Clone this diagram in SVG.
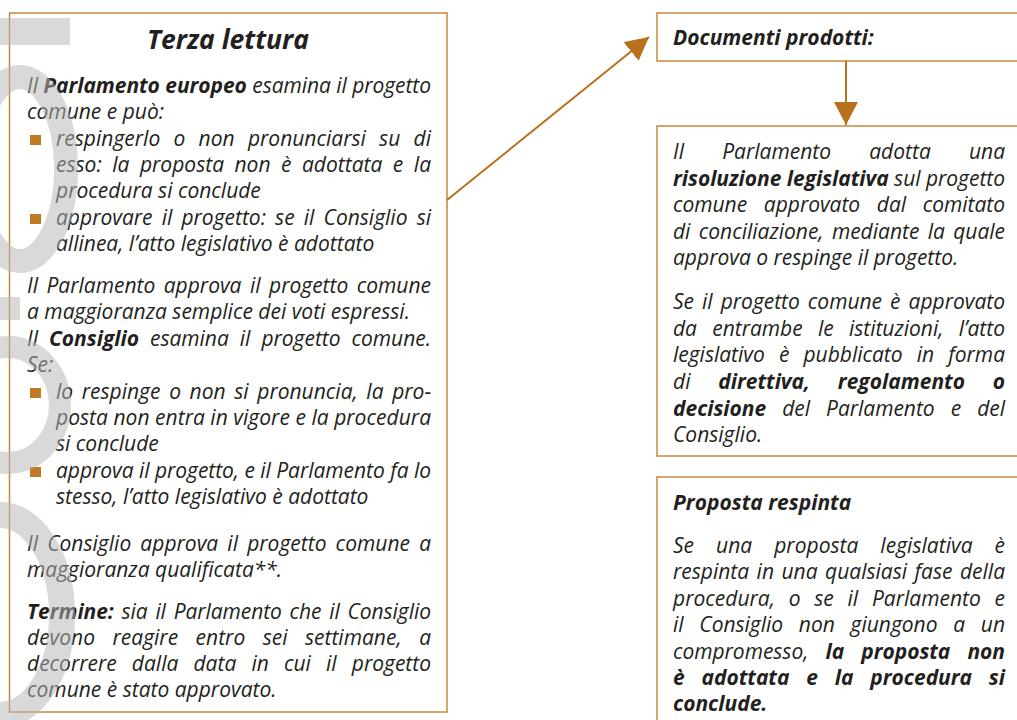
<svg xmlns="http://www.w3.org/2000/svg" width="1017" height="720" viewBox="0 0 1017 720">
<style>
.box{fill:#fff;stroke:#c8883e;stroke-width:1.5}
.t{font-family:"Open Sans","Liberation Sans",sans-serif;font-style:italic;font-size:21px;fill:#231f20}
.b{font-weight:700}
.h{font-family:"Open Sans","Liberation Sans",sans-serif;font-style:italic;font-weight:700;font-size:26.5px;fill:#231f20}
.bul{fill:#c07a24}
.con{stroke:#b9701c;stroke-width:2;fill:none}
.wm{fill:none;stroke:#b7b7b7;stroke-opacity:0.52}
.wf{fill:#b7b7b7;fill-opacity:0.52}
</style>
<defs>
<marker id="ah" markerUnits="userSpaceOnUse" markerWidth="24" markerHeight="24" refX="23" refY="12" orient="auto">
<path d="M0,0 L23,12 L0,24 z" fill="#b9701c"/>
</marker>
</defs>
<rect width="1017" height="720" fill="#fff"/>
<g id="terza-lettura">
<rect class="box" x="9.5" y="13" width="437.5" height="699"/>
<text class="h" x="228" y="49" text-anchor="middle">Terza lettura</text>
<text class="t" x="27" y="92.5" textLength="404" lengthAdjust="spacing">Il <tspan class="b">Parlamento europeo</tspan> esamina il progetto</text>
<text class="t" x="27" y="118.5">comune e può:</text>
<rect class="bul" x="30" y="135" width="11" height="10"/>
<text class="t" x="56" y="145.5" style="word-spacing:7.8px" textLength="375" lengthAdjust="spacing">respingerlo o non pronunciarsi su di</text>
<text class="t" x="56" y="171.5" style="word-spacing:5px" textLength="375" lengthAdjust="spacing">esso: la proposta non è adottata e la</text>
<text class="t" x="56" y="197.5">procedura si conclude</text>
<rect class="bul" x="30" y="214" width="11" height="10"/>
<text class="t" x="56" y="224.5" style="word-spacing:3.7px" textLength="375" lengthAdjust="spacing">approvare il progetto: se il Consiglio si</text>
<text class="t" x="56" y="250.5">allinea, l’atto legislativo è adottato</text>
<text class="t" x="27" y="292.5" style="word-spacing:3px" textLength="404" lengthAdjust="spacing">Il Parlamento approva il progetto comune</text>
<text class="t" x="27" y="318.5">a maggioranza semplice dei voti espressi.</text>
<text class="t" x="27" y="345.5" style="word-spacing:5.6px" textLength="404" lengthAdjust="spacing">Il <tspan class="b">Consiglio</tspan> esamina il progetto comune.</text>
<text class="t" x="27" y="371.5">Se:</text>
<rect class="bul" x="30" y="388" width="11" height="10"/>
<text class="t" x="56" y="398.5" style="word-spacing:3.2px" textLength="375" lengthAdjust="spacing">lo respinge o non si pronuncia, la pro-</text>
<text class="t" x="56" y="424.5" textLength="375" lengthAdjust="spacing">posta non entra in vigore e la procedura</text>
<text class="t" x="56" y="450.5">si conclude</text>
<rect class="bul" x="30" y="467" width="11" height="10"/>
<text class="t" x="56" y="477.5" textLength="375" lengthAdjust="spacing">approva il progetto, e il Parlamento fa lo</text>
<text class="t" x="56" y="503.5">stesso, l’atto legislativo è adottato</text>
<text class="t" x="27" y="550.5" style="word-spacing:3.7px" textLength="404" lengthAdjust="spacing">Il Consiglio approva il progetto comune a</text>
<text class="t" x="27" y="576.5">maggioranza qualificata**.</text>
<text class="t" x="27" y="618.5" style="word-spacing:2.4px" textLength="404" lengthAdjust="spacing"><tspan class="b">Termine:</tspan> sia il Parlamento che il Consiglio</text>
<text class="t" x="27" y="644.5" style="word-spacing:12px" textLength="404" lengthAdjust="spacing">devono reagire entro sei settimane, a</text>
<text class="t" x="27" y="670.5" style="word-spacing:9.7px" textLength="404" lengthAdjust="spacing">decorrere dalla data in cui il progetto</text>
<text class="t" x="27" y="696.5">comune è stato approvato.</text>
</g>
<g id="documenti-prodotti">
<rect class="box" x="657" y="13" width="380" height="48"/>
<text class="t b" x="673" y="44.5">Documenti prodotti:</text>
</g>
<g id="risoluzione">
<rect class="box" x="657" y="126" width="380" height="330"/>
<text class="t" x="673" y="158.5" style="word-spacing:32.7px" textLength="332" lengthAdjust="spacing">Il Parlamento adotta una</text>
<text class="t" x="673" y="185.5" textLength="332" lengthAdjust="spacing"><tspan class="b">risoluzione legislativa</tspan> sul progetto</text>
<text class="t" x="673" y="211.5" style="word-spacing:11.3px" textLength="332" lengthAdjust="spacing">comune approvato dal comitato</text>
<text class="t" x="673" y="238.5" style="word-spacing:2.9px" textLength="332" lengthAdjust="spacing">di conciliazione, mediante la quale</text>
<text class="t" x="673" y="264.5">approva o respinge il progetto.</text>
<text class="t" x="673" y="308.5" style="word-spacing:2.6px" textLength="332" lengthAdjust="spacing">Se il progetto comune è approvato</text>
<text class="t" x="673" y="335.5" style="word-spacing:9.8px" textLength="332" lengthAdjust="spacing">da entrambe le istituzioni, l’atto</text>
<text class="t" x="673" y="361.5" style="word-spacing:8.7px" textLength="332" lengthAdjust="spacing">legislativo è pubblicato in forma</text>
<text class="t" x="673" y="388.5" style="word-spacing:22.3px" textLength="332" lengthAdjust="spacing">di <tspan class="b">direttiva, regolamento o</tspan></text>
<text class="t" x="673" y="415.5" style="word-spacing:10.6px" textLength="332" lengthAdjust="spacing"><tspan class="b">decisione</tspan> del Parlamento e del</text>
<text class="t" x="673" y="441.5">Consiglio.</text>
</g>
<g id="proposta-respinta">
<rect class="box" x="657" y="477" width="380" height="260"/>
<text class="t b" x="673" y="509.5">Proposta respinta</text>
<text class="t" x="673" y="552.5" style="word-spacing:16.5px" textLength="332" lengthAdjust="spacing">Se una proposta legislativa è</text>
<text class="t" x="673" y="578.5" style="word-spacing:2.1px" textLength="332" lengthAdjust="spacing">respinta in una qualsiasi fase della</text>
<text class="t" x="673" y="605.5" style="word-spacing:8.3px" textLength="332" lengthAdjust="spacing">procedura, o se il Parlamento e</text>
<text class="t" x="673" y="631.5" style="word-spacing:10.3px" textLength="332" lengthAdjust="spacing">il Consiglio non giungono a un</text>
<text class="t" x="673" y="658.5" style="word-spacing:11.7px" textLength="332" lengthAdjust="spacing">compromesso, <tspan class="b">la proposta non</tspan></text>
<text class="t b" x="673" y="684.5" style="word-spacing:11.4px" textLength="332" lengthAdjust="spacing">è adottata e la procedura si</text>
<text class="t b" x="673" y="710.5">conclude.</text>
</g>
<g id="connectors">
<line class="con" x1="447" y1="200" x2="649" y2="37" marker-end="url(#ah)"/>
<line class="con" x1="846" y1="61" x2="846" y2="125" marker-end="url(#ah)"/>
</g>
<g id="watermark">
<rect class="wf" x="0" y="18" width="70" height="27"/>
<ellipse class="wm" cx="20" cy="169" rx="46" ry="92" stroke-width="24"/>
<rect class="wf" x="0" y="297" width="20" height="23"/>
<ellipse class="wm" cx="8" cy="405" rx="52" ry="58" stroke-width="22"/>
<ellipse class="wm" cx="0" cy="615" rx="62" ry="100" stroke-width="26"/>
</g>
</svg>
